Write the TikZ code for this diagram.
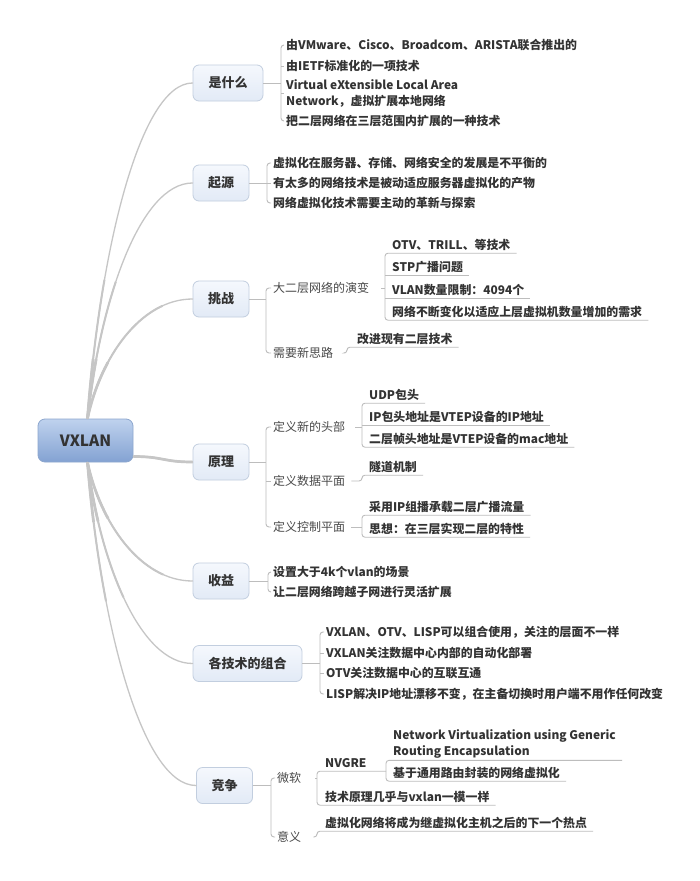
\documentclass[tikz,border=0pt]{standalone}
\usepackage{fontspec}
\setmainfont{Noto Sans CJK SC}
\definecolor{linegray}{HTML}{C6C6C6}
\definecolor{brgray}{HTML}{BDBDBD}
\definecolor{topicborder}{HTML}{C2CEDF}
\definecolor{topictop}{HTML}{F5F8FD}
\definecolor{topicbot}{HTML}{E2EAF6}
\definecolor{roottop}{HTML}{BFD2EE}
\definecolor{rootbot}{HTML}{83A2D2}
\definecolor{rootborder}{HTML}{8DA7CE}
\definecolor{txt}{HTML}{333333}
\definecolor{subtxt}{HTML}{4A4A4A}
\tikzset{
  link/.style={draw=linegray, line width=1.3pt, line cap=round,
    preaction={draw=linegray, line width=2.7pt, dash pattern=on 60pt off 3000pt},
    preaction={draw=linegray, line width=2pt, dash pattern=on 140pt off 3000pt}},
  br/.style={draw=brgray, line width=0.9pt, rounded corners=3pt},
  topic/.style={draw=topicborder, line width=0.8pt, rounded corners=6pt,
    top color=topictop, bottom color=topicbot, minimum height=36pt,
    minimum width=56pt, inner sep=0pt,
    font=\fontsize{13}{15}\selectfont\bfseries, text=txt},
  rootbox/.style={draw=rootborder, line width=0.8pt, rounded corners=7pt,
    top color=roottop, bottom color=rootbot, minimum height=43pt,
    minimum width=95pt, inner sep=0pt,
    font=\fontsize{15.5}{18}\selectfont\bfseries, text=txt},
  leaf/.style={anchor=west, inner xsep=2pt, inner ysep=2pt, text height=10pt,
    text depth=2pt, font=\fontsize{11.9}{15}\selectfont\bfseries, text=txt},
  leafml/.style={anchor=west, inner xsep=2pt, inner ysep=2pt, align=left,
    font=\fontsize{11.9}{15.5}\selectfont\bfseries, text=txt},
  sub/.style={anchor=west, inner xsep=2pt, inner ysep=2pt, text height=10.5pt,
    text depth=2pt, font=\fontsize{12}{15}\selectfont, text=subtxt},
}
\begin{document}
\begin{tikzpicture}[x=1pt,y=-1pt]
\fill[white] (0,0) rectangle (700,881);
\useasboundingbox (0,0) rectangle (700,881);

% root and topics
\node[rootbox] (vx) at (85.5,440.5) {VXLAN};
\node[topic, minimum width=70pt] (t1) at (228,83) {是什么};
\node[topic] (t2) at (221,183) {起源};
\node[topic] (t3) at (221,299) {挑战};
\node[topic] (t4) at (221,462) {原理};
\node[topic] (t5) at (221,581) {收益};
\node[topic, minimum width=109pt] (t6) at (247.5,663.5) {各技术的组合};
\node[topic] (t7) at (224.5,785.5) {竞争};

% root links
\draw[link] ([xshift=2pt]vx.north) .. controls +(12.6,-168) and +(-52.5,0) .. (t1.west);
\draw[link] ([xshift=2pt]vx.north) .. controls +(12.6,-118) and +(-52.5,0) .. (t2.west);
\draw[link] ([xshift=2pt]vx.north) .. controls +(12.6,-60) and +(-52.5,0) .. (t3.west);
\draw[link] ([yshift=-16pt]vx.east) .. controls +(30,0) and +(-30,0) .. (t4.west);
\draw[link] ([xshift=2pt]vx.south) .. controls +(12.6,59.5) and +(-52.5,0) .. (t5.west);
\draw[link] ([xshift=2pt]vx.south) .. controls +(12.6,100.75) and +(-52.5,0) .. (t6.west);
\draw[link] ([xshift=2pt]vx.south) .. controls +(13,161.75) and +(-54,0) .. (t7.west);

% 是什么
\node[leaf] (a1) at (284,45) {由VMware、Cisco、Broadcom、ARISTA联合推出的};
\node[leaf] (a2) at (284,66) {由IETF标准化的一项技术};
\node[leafml] (a3) at (284,93.5) {Virtual eXtensible Local Area\\Network，虚拟扩展本地网络};
\node[leaf] (a4) at (284,121) {把二层网络在三层范围内扩展的一种技术};
\draw[br] (t1.east) -- (281,0 |- t1.east);
\draw[br] (a1.west) -- (281,0 |- a1.west) -- (281,0 |- a4.west) -- (a4.west);
\draw[br] (281,0 |- a2.west) -- (a2.west);
\draw[br] (281,0 |- a3.west) -- (a3.west);

% 起源
\node[leaf] (b1) at (271,163) {虚拟化在服务器、存储、网络安全的发展是不平衡的};
\node[leaf] (b2) at (271,183) {有太多的网络技术是被动适应服务器虚拟化的产物};
\node[leaf] (b3) at (271,203) {网络虚拟化技术需要主动的革新与探索};
\draw[br] (t2.east) -- (267,0 |- t2.east);
\draw[br] (b1.west) -- (267,0 |- b1.west) -- (267,0 |- b3.west) -- (b3.west);
\draw[br] (267,0 |- b2.west) -- (b2.west);

% 挑战
\node[sub] (c1) at (271,288) {大二层网络的演变};
\node[sub] (c2) at (271,353) {需要新思路};
\draw[br] (t3.east) -- (266,0 |- t3.east);
\draw[br] (c1.west) -- (266,0 |- c1.west) -- (266,0 |- c2.west) -- (c2.west);
\node[leaf] (d1) at (390,245) {OTV、TRILL、等技术};
\node[leaf] (d2) at (390,267.5) {STP广播问题};
\node[leaf] (d3) at (390,290) {VLAN数量限制：4094个};
\node[leaf] (d4) at (390,312) {网络不断变化以适应上层虚拟机数量增加的需求};
\draw[br] ([xshift=10pt]c1.east) -- (385,0 |- c1.east);
\draw[br] ([xshift=4pt]d1.south east) -- (385,0 |- d1.south) -- (385,0 |- d4.south) -- ([xshift=4pt]d4.south east);
\draw[br] (385,0 |- d2.south) -- ([xshift=4pt]d2.south east);
\draw[br] (385,0 |- d3.south) -- ([xshift=4pt]d3.south east);
\node[leaf] (e1) at (355,339) {改进现有二层技术};
\draw[br] ([xshift=10pt]c2.east) -- (347,0 |- c2.east) -- (347,0 |- e1.south) -- ([xshift=4pt]e1.south east);

% 原理
\node[sub] (f1) at (271,427) {定义新的头部};
\node[sub] (f2) at (271,481) {定义数据平面};
\node[sub] (f3) at (271,527) {定义控制平面};
\draw[br] (t4.east) -- (266,0 |- t4.east);
\draw[br] (f1.west) -- (266,0 |- f1.west) -- (266,0 |- f3.west) -- (f3.west);
\draw[br] (266,0 |- f2.west) -- (f2.west);
\node[leaf] (g1) at (367,395) {UDP包头};
\node[leaf] (g2) at (367,417) {IP包头地址是VTEP设备的IP地址};
\node[leaf] (g3) at (367,439) {二层帧头地址是VTEP设备的mac地址};
\draw[br] ([xshift=8pt]f1.east) -- (362,0 |- f1.east);
\draw[br] ([xshift=4pt]g1.south east) -- (362,0 |- g1.south) -- (362,0 |- g3.south) -- ([xshift=4pt]g3.south east);
\draw[br] (362,0 |- g2.south) -- ([xshift=4pt]g2.south east);
\node[leaf] (h1) at (367,467) {隧道机制};
\draw[br] ([xshift=4pt]f2.east) -- (362,0 |- f2.east) -- (362,0 |- h1.south) -- ([xshift=4pt]h1.south east);
\node[leaf] (i1) at (367,507) {采用IP组播承载二层广播流量};
\node[leaf] (i2) at (367,529) {思想：在三层实现二层的特性};
\draw[br] ([xshift=4pt]f3.east) -- (362,0 |- f3.east);
\draw[br] ([xshift=4pt]i1.south east) -- (362,0 |- i1.south) -- (362,0 |- i2.south) -- ([xshift=4pt]i2.south east);

% 收益
\node[leaf] (j1) at (271,572) {设置大于4k个vlan的场景};
\node[leaf] (j2) at (271,592) {让二层网络跨越子网进行灵活扩展};
\draw[br] (t5.east) -- (268,0 |- t5.east);
\draw[br] (j1.west) -- (268,0 |- j1.west) -- (268,0 |- j2.west) -- (j2.west);

% 各技术的组合
\node[leaf] (k1) at (324,632) {VXLAN、OTV、LISP可以组合使用，关注的层面不一样};
\node[leaf] (k2) at (324,653) {VXLAN关注数据中心内部的自动化部署};
\node[leaf] (k3) at (324,673) {OTV关注数据中心的互联互通};
\node[leaf] (k4) at (324,694) {LISP解决IP地址漂移不变，在主备切换时用户端不用作任何改变};
\draw[br] (t6.east) -- (320,0 |- t6.east);
\draw[br] (k1.west) -- (320,0 |- k1.west) -- (320,0 |- k4.west) -- (k4.west);
\draw[br] (320,0 |- k2.west) -- (k2.west);
\draw[br] (320,0 |- k3.west) -- (k3.west);

% 竞争
\node[sub] (m1) at (275,778) {微软};
\node[sub] (m2) at (275,837) {意义};
\draw[br] (t7.east) -- (271,0 |- t7.east);
\draw[br] (m1.west) -- (271,0 |- m1.west) -- (271,0 |- m2.west) -- (m2.west);
\node[leaf] (n1) at (323,763) {NVGRE};
\node[leaf] (n2) at (323,797) {技术原理几乎与vxlan一模一样};
\draw[br] ([xshift=12pt]m1.east) -- (317,0 |- m1.east);
\draw[br] (386,0 |- n1.south) -- (317,0 |- n1.south) -- (317,0 |- n2.south) -- ([xshift=4pt]n2.south east);
\node[leafml] (o1) at (391,744) {Network Virtualization using Generic\\Routing Encapsulation};
\node[leaf] (o2) at (391,773) {基于通用路由封装的网络虚拟化};
\draw[br] ([xshift=4pt]o1.south east) -- (386,0 |- o1.south) -- (386,0 |- o2.south) -- ([xshift=4pt]o2.south east);
\node[leaf] (p1) at (323,823) {虚拟化网络将成为继虚拟化主机之后的下一个热点};
\draw[br] ([xshift=10pt]m2.east) -- (317,0 |- m2.east) -- (317,0 |- p1.south) -- ([xshift=4pt]p1.south east);
\end{tikzpicture}
\end{document}
